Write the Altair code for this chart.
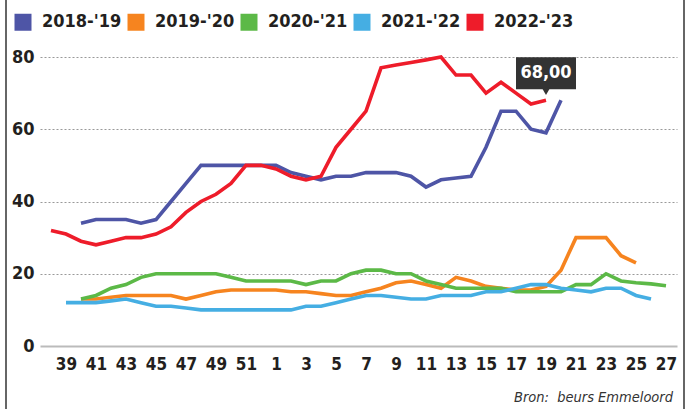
import altair as alt
import pandas as pd

FONT = "'Liberation Sans Narrow', 'Arial Narrow', 'DejaVu Sans Condensed', sans-serif"

# x categories: week numbers of the season (week 38 .. 52, then 1 .. 27)
weeks = [str(w) for w in list(range(38, 53)) + list(range(1, 28))]
tick_labels = ["39", "41", "43", "45", "47", "49", "51", "1", "3", "5", "7", "9",
               "11", "13", "15", "17", "19", "21", "23", "25", "27"]
y_ticks = [0, 20, 40, 60, 80]

seasons = ["2018-'19", "2019-'20", "2020-'21", "2021-'22", "2022-'23"]
colors = ["#4E55A6", "#F6841F", "#5CB947", "#45AEE3", "#EE1C2A"]

start_2018 = "40"
vals_2018 = [34, 35, 35, 35, 34, 35, 40, 45, 50, 50, 50, 50, 50,
             50, 48, 47, 46, 47, 47, 48, 48, 48, 47, 44, 46, 46.5, 47, 55, 65, 65, 60, 59, 68]

start_2019 = "40"
vals_2019 = [13, 13, 13.5, 14, 14, 14, 14, 13, 14, 15, 15.5, 15.5, 15.5,
             15.5, 15, 15, 14.5, 14, 14, 15, 16, 17.5, 18, 17, 16, 19, 18, 16.5, 16,
             15.5, 15.5, 16.5, 21, 30, 30, 30, 25, 23]

start_2020 = "40"
vals_2020 = [13, 14, 16, 17, 19, 20, 20, 20, 20, 20, 19, 18, 18,
             18, 18, 17, 18, 18, 20, 21, 21, 20, 20, 18, 17, 16, 16, 16, 16,
             15, 15, 15, 15, 17, 17, 20, 18, 17.5, 17.2, 16.7]

start_2021 = "39"
vals_2021 = [12, 12, 12, 12.5, 13, 12, 11, 11, 10.5, 10, 10, 10, 10, 10,
             10, 10, 11, 11, 12, 13, 14, 14, 13.5, 13, 13, 14, 14, 14, 15, 15,
             16, 17, 17, 16, 15.5, 15, 16, 16, 14, 13]

start_2022 = "38"
vals_2022 = [32, 31, 29, 28, 29, 30, 30, 31, 33, 37, 40, 42, 45, 50, 50,
             49, 47, 46, 47, 55, 60, 65, 77, 77.8, 78.5, 79.2, 80, 75, 75, 70, 73,
             70, 67, 68]

series = [
    (seasons[0], start_2018, vals_2018),
    (seasons[1], start_2019, vals_2019),
    (seasons[2], start_2020, vals_2020),
    (seasons[3], start_2021, vals_2021),
    (seasons[4], start_2022, vals_2022),
]

rows = []
for name, start, vals in series:
    i0 = weeks.index(start)
    for k, v in enumerate(vals):
        rows.append({"season": name, "week": weeks[i0 + k], "value": v, "order": i0 + k})
df = pd.DataFrame(rows)

last_i = weeks.index(start_2022) + len(vals_2022) - 1
ann_df = pd.DataFrame({
    "week": [weeks[last_i]],
    "value": [vals_2022[-1]],
    "label": [f"{vals_2022[-1]:.2f}".replace(".", ",")],
})
src_df = pd.DataFrame({"t": ["Bron:\u00a0 beurs Emmeloord"]})
frame_df = pd.DataFrame({"k": [0]})

x_scale = alt.Scale(type="point", domain=weeks, padding=0.733)
y_scale = alt.Scale(domain=[0, 80])

lines = alt.Chart(df).mark_line(strokeWidth=3.6).encode(
    x=alt.X("week:N", scale=x_scale, sort=weeks,
            axis=alt.Axis(values=tick_labels, title=None, labelAngle=0, ticks=False,
                          domainColor="#bbbbbb", domainWidth=2, grid=False,
                          labelFont=FONT, labelFontSize=17, labelFontWeight="bold",
                          labelColor="#231f20", labelPadding=10)),
    y=alt.Y("value:Q", scale=y_scale,
            axis=alt.Axis(values=y_ticks, title=None, ticks=False, domain=False,
                          grid=True, gridDash=[2, 2], gridWidth=1,
                          gridColor={"condition": {"test": "datum.value === 0", "value": "transparent"},
                                     "value": "#999999"},
                          labelFont=FONT, labelFontSize=18, labelFontWeight="bold",
                          labelColor="#231f20", labelPadding=6)),
    color=alt.Color("season:N", scale=alt.Scale(domain=seasons, range=colors),
                    legend=alt.Legend(title=None, orient="none", legendX=-26, legendY=-44,
                                      direction="horizontal", symbolType="square",
                                      symbolSize=49, symbolStrokeWidth=10, symbolOpacity=1,
                                      labelFont=FONT, labelFontSize=18, labelFontWeight="bold",
                                      labelColor="#231f20", labelOffset=10, columnPadding=-10,
                                      padding=0)),
    order="order:Q",
)

box = alt.Chart(ann_df).mark_rect(color="#333333", xOffset=-30, x2Offset=30,
                                  yOffset=-43, y2Offset=-11).encode(
    x=alt.X("week:N", scale=x_scale), x2="week", y=alt.Y("value:Q", scale=y_scale), y2="value")
tri = alt.Chart(ann_df).mark_point(shape="triangle-down", filled=True, color="#333333",
                                   size=70, opacity=1, yOffset=-9).encode(
    x=alt.X("week:N", scale=x_scale), y=alt.Y("value:Q", scale=y_scale))
ann_text = alt.Chart(ann_df).mark_text(color="white", font=FONT, fontSize=18, fontWeight="bold",
                                       yOffset=-27, baseline="middle").encode(
    x=alt.X("week:N", scale=x_scale), y=alt.Y("value:Q", scale=y_scale), text="label:N")

source = alt.Chart(src_df).mark_text(align="right", baseline="alphabetic", fontStyle="italic",
                                     fontSize=14.5, font=FONT, color="#333333").encode(
    x=alt.value(633), y=alt.value(345), text="t:N")

left_border = alt.Chart(frame_df).mark_rule(color="#666666", strokeWidth=2).encode(
    x=alt.value(-34), y=alt.value(-57), y2=alt.value(352))
right_border = alt.Chart(frame_df).mark_rule(color="#666666", strokeWidth=2).encode(
    x=alt.value(644), y=alt.value(-57), y2=alt.value(352))

chart = alt.layer(lines, box, tri, ann_text, source, left_border, right_border).properties(
    width=637, height=289,
    autosize=alt.AutoSizeParams(type="none"),
    padding={"left": 40, "top": 57, "right": 12, "bottom": 63},
    background="white",
).configure_view(stroke=None)

chart.save("out.html", embed_options={"renderer": "svg", "actions": False})
